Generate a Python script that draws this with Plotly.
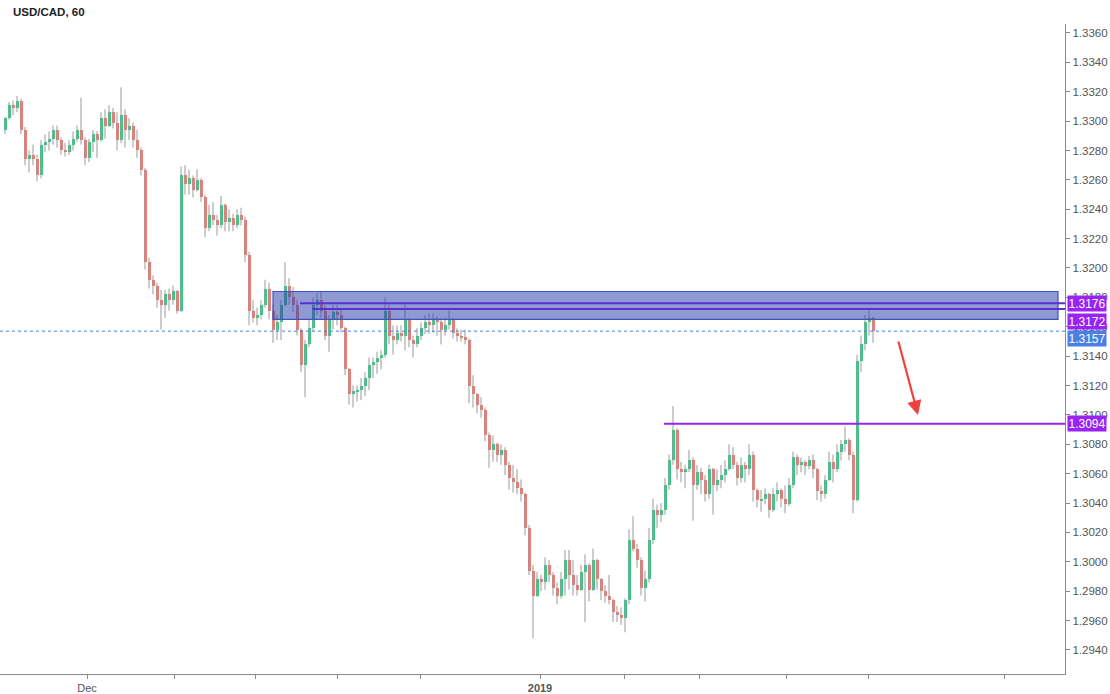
import plotly.graph_objects as go

# ---------------- data (~4-hour candles) ----------------
opens = [
    1.3294, 1.3302, 1.3311, 1.3309, 1.3314, 1.3294, 1.3274, 1.3277, 1.3274, 1.3263,
    1.3284, 1.3286, 1.3288, 1.3294, 1.3287, 1.3280, 1.3279, 1.3284, 1.3288, 1.3294,
    1.3287, 1.3275, 1.3286, 1.3291, 1.3287, 1.3302, 1.3297, 1.3306, 1.3299, 1.3287,
    1.3304, 1.3294, 1.3297, 1.3287, 1.3280, 1.3267, 1.3204, 1.3192, 1.3188, 1.3178,
    1.3175, 1.3182, 1.3178, 1.3184, 1.3171, 1.3263, 1.3257, 1.3261, 1.3253, 1.3260,
    1.3248, 1.3227, 1.3236, 1.3233, 1.3229, 1.3243, 1.3231, 1.3234, 1.3229, 1.3236,
    1.3233, 1.3209, 1.3171, 1.3166, 1.3168, 1.3175, 1.3186, 1.3171, 1.3158, 1.3163,
    1.3175, 1.3188, 1.3180, 1.3175, 1.3158, 1.3134, 1.3148, 1.3159, 1.3175, 1.3178,
    1.3171, 1.3154, 1.3165, 1.3170, 1.3168, 1.3159, 1.3131, 1.3114, 1.3116, 1.3117,
    1.3120, 1.3125, 1.3134, 1.3136, 1.3139, 1.3141, 1.3171, 1.3154, 1.3151, 1.3156,
    1.3154, 1.3165, 1.3151, 1.3148, 1.3154, 1.3159, 1.3163, 1.3161, 1.3165, 1.3163,
    1.3158, 1.3161, 1.3165, 1.3156, 1.3154, 1.3153, 1.3151, 1.3120, 1.3114, 1.3107,
    1.3103, 1.3086, 1.3076, 1.3080, 1.3073, 1.3076, 1.3066, 1.3057, 1.3054, 1.3050,
    1.3046, 1.3023, 1.2994, 1.2977, 1.2988, 1.2986, 1.2998, 1.2991, 1.2982, 1.2977,
    1.2988, 1.3001, 1.2991, 1.2984, 1.2981, 1.2993, 1.2998, 1.2981, 1.3001, 1.2988,
    1.2980, 1.2977, 1.2974, 1.2966, 1.2964, 1.2962, 1.2974, 1.3015, 1.3009, 1.3001,
    1.2982, 1.2988, 1.3015, 1.3035, 1.3032, 1.3035, 1.3052, 1.3069, 1.3090, 1.3063,
    1.3061, 1.3063, 1.3069, 1.3052, 1.3061, 1.3056, 1.3046, 1.3063, 1.3052, 1.3056,
    1.3059, 1.3063, 1.3073, 1.3066, 1.3057, 1.3066, 1.3063, 1.3073, 1.3049, 1.3042,
    1.3043, 1.3046, 1.3035, 1.3046, 1.3049, 1.3043, 1.3039, 1.3052, 1.3071, 1.3066,
    1.3068, 1.3065, 1.3069, 1.3063, 1.3048, 1.3046, 1.3056, 1.3068, 1.3063, 1.3075,
    1.3080, 1.3083, 1.3073, 1.3042, 1.3137, 1.3148, 1.3163, 1.3166,
]
highs = [
    1.3303, 1.3313, 1.3314, 1.3317, 1.3315, 1.3296, 1.3280, 1.3284, 1.3277, 1.3287,
    1.3291, 1.3293, 1.3297, 1.3297, 1.3289, 1.3285, 1.3287, 1.3293, 1.3297, 1.3316,
    1.3289, 1.3288, 1.3294, 1.3293, 1.3306, 1.3308, 1.3311, 1.3309, 1.3306, 1.3323,
    1.3308, 1.3302, 1.3299, 1.3294, 1.3282, 1.3268, 1.3207, 1.3195, 1.3190, 1.3185,
    1.3185, 1.3186, 1.3188, 1.3185, 1.3269, 1.3270, 1.3267, 1.3263, 1.3267, 1.3261,
    1.3250, 1.3243, 1.3245, 1.3236, 1.3249, 1.3244, 1.3240, 1.3237, 1.3240, 1.3241,
    1.3235, 1.3211, 1.3178, 1.3173, 1.3178, 1.3192, 1.3190, 1.3175, 1.3168, 1.3178,
    1.3204, 1.3193, 1.3187, 1.3178, 1.3159, 1.3151, 1.3165, 1.3180, 1.3183, 1.3184,
    1.3175, 1.3168, 1.3175, 1.3175, 1.3173, 1.3160, 1.3132, 1.3120, 1.3120, 1.3125,
    1.3129, 1.3139, 1.3139, 1.3143, 1.3144, 1.3180, 1.3175, 1.3161, 1.3161, 1.3161,
    1.3176, 1.3166, 1.3154, 1.3159, 1.3163, 1.3168, 1.3169, 1.3169, 1.3167, 1.3166,
    1.3166, 1.3171, 1.3166, 1.3159, 1.3158, 1.3158, 1.3152, 1.3127, 1.3115, 1.3112,
    1.3105, 1.3088, 1.3086, 1.3081, 1.3080, 1.3078, 1.3068, 1.3066, 1.3063, 1.3056,
    1.3047, 1.3025, 1.2998, 1.2993, 1.2991, 1.3003, 1.3001, 1.2993, 1.2986, 1.2993,
    1.3008, 1.3008, 1.3001, 1.2991, 1.2998, 1.3005, 1.2999, 1.3009, 1.3002, 1.2989,
    1.2984, 1.2991, 1.2975, 1.2970, 1.2969, 1.2975, 1.3022, 1.3031, 1.3012, 1.3003,
    1.2994, 1.3023, 1.3043, 1.3039, 1.3040, 1.3057, 1.3073, 1.3106, 1.3091, 1.3068,
    1.3066, 1.3076, 1.3071, 1.3066, 1.3064, 1.3059, 1.3066, 1.3064, 1.3063, 1.3066,
    1.3069, 1.3080, 1.3078, 1.3068, 1.3071, 1.3068, 1.3080, 1.3075, 1.3050, 1.3049,
    1.3050, 1.3047, 1.3050, 1.3054, 1.3050, 1.3052, 1.3057, 1.3075, 1.3073, 1.3071,
    1.3069, 1.3072, 1.3073, 1.3064, 1.3052, 1.3059, 1.3075, 1.3073, 1.3080, 1.3083,
    1.3092, 1.3084, 1.3075, 1.3141, 1.3154, 1.3168, 1.3171, 1.3167,
]
lows = [
    1.3291, 1.3301, 1.3304, 1.3306, 1.3291, 1.3270, 1.3265, 1.3270, 1.3259, 1.3261,
    1.3279, 1.3280, 1.3284, 1.3282, 1.3277, 1.3276, 1.3277, 1.3280, 1.3286, 1.3284,
    1.3270, 1.3272, 1.3279, 1.3275, 1.3286, 1.3288, 1.3296, 1.3295, 1.3280, 1.3285,
    1.3282, 1.3287, 1.3282, 1.3275, 1.3263, 1.3199, 1.3186, 1.3182, 1.3173, 1.3158,
    1.3166, 1.3171, 1.3175, 1.3169, 1.3170, 1.3250, 1.3250, 1.3248, 1.3252, 1.3245,
    1.3221, 1.3225, 1.3229, 1.3222, 1.3227, 1.3225, 1.3225, 1.3225, 1.3227, 1.3229,
    1.3204, 1.3161, 1.3163, 1.3161, 1.3165, 1.3173, 1.3165, 1.3149, 1.3151, 1.3151,
    1.3174, 1.3175, 1.3170, 1.3154, 1.3129, 1.3112, 1.3146, 1.3157, 1.3168, 1.3166,
    1.3151, 1.3143, 1.3158, 1.3161, 1.3156, 1.3127, 1.3107, 1.3105, 1.3109, 1.3110,
    1.3113, 1.3117, 1.3125, 1.3128, 1.3131, 1.3139, 1.3148, 1.3141, 1.3148, 1.3150,
    1.3144, 1.3146, 1.3139, 1.3146, 1.3151, 1.3155, 1.3155, 1.3156, 1.3154, 1.3148,
    1.3154, 1.3158, 1.3152, 1.3150, 1.3150, 1.3148, 1.3108, 1.3105, 1.3101, 1.3098,
    1.3082, 1.3064, 1.3068, 1.3068, 1.3066, 1.3059, 1.3049, 1.3047, 1.3046, 1.3041,
    1.3018, 1.2991, 1.2948, 1.2976, 1.2980, 1.2981, 1.2986, 1.2977, 1.2971, 1.2975,
    1.2977, 1.2981, 1.2977, 1.2977, 1.2980, 1.2959, 1.2973, 1.2980, 1.2981, 1.2974,
    1.2972, 1.2971, 1.2959, 1.2959, 1.2957, 1.2952, 1.2971, 1.3007, 1.2996, 1.2977,
    1.2973, 1.2986, 1.3012, 1.3023, 1.3027, 1.3032, 1.3049, 1.3066, 1.3056, 1.3054,
    1.3050, 1.3061, 1.3028, 1.3049, 1.3046, 1.3041, 1.3043, 1.3032, 1.3048, 1.3050,
    1.3054, 1.3062, 1.3063, 1.3052, 1.3054, 1.3054, 1.3059, 1.3041, 1.3037, 1.3034,
    1.3039, 1.3030, 1.3034, 1.3041, 1.3037, 1.3033, 1.3038, 1.3050, 1.3059, 1.3061,
    1.3059, 1.3063, 1.3057, 1.3042, 1.3041, 1.3043, 1.3055, 1.3054, 1.3061, 1.3069,
    1.3075, 1.3069, 1.3033, 1.3041, 1.3129, 1.3144, 1.3154, 1.3149,
]
closes = [
    1.3302, 1.3311, 1.3309, 1.3314, 1.3294, 1.3274, 1.3277, 1.3274, 1.3263, 1.3284,
    1.3286, 1.3288, 1.3294, 1.3287, 1.3280, 1.3279, 1.3284, 1.3288, 1.3294, 1.3287,
    1.3275, 1.3286, 1.3291, 1.3287, 1.3302, 1.3297, 1.3306, 1.3299, 1.3287, 1.3304,
    1.3294, 1.3297, 1.3287, 1.3280, 1.3267, 1.3204, 1.3192, 1.3188, 1.3178, 1.3175,
    1.3182, 1.3178, 1.3184, 1.3171, 1.3263, 1.3257, 1.3261, 1.3253, 1.3260, 1.3248,
    1.3227, 1.3236, 1.3233, 1.3229, 1.3243, 1.3231, 1.3234, 1.3229, 1.3236, 1.3233,
    1.3209, 1.3171, 1.3166, 1.3168, 1.3175, 1.3186, 1.3171, 1.3158, 1.3163, 1.3175,
    1.3188, 1.3180, 1.3175, 1.3158, 1.3134, 1.3148, 1.3159, 1.3175, 1.3178, 1.3171,
    1.3154, 1.3165, 1.3170, 1.3168, 1.3159, 1.3131, 1.3114, 1.3116, 1.3117, 1.3120,
    1.3125, 1.3134, 1.3136, 1.3139, 1.3141, 1.3171, 1.3154, 1.3151, 1.3156, 1.3154,
    1.3165, 1.3151, 1.3148, 1.3154, 1.3159, 1.3163, 1.3161, 1.3165, 1.3163, 1.3158,
    1.3161, 1.3165, 1.3156, 1.3154, 1.3153, 1.3151, 1.3120, 1.3114, 1.3107, 1.3103,
    1.3086, 1.3076, 1.3080, 1.3073, 1.3076, 1.3066, 1.3057, 1.3054, 1.3050, 1.3046,
    1.3023, 1.2994, 1.2977, 1.2988, 1.2986, 1.2998, 1.2991, 1.2982, 1.2977, 1.2988,
    1.3001, 1.2991, 1.2984, 1.2981, 1.2993, 1.2998, 1.2981, 1.3001, 1.2988, 1.2980,
    1.2977, 1.2974, 1.2966, 1.2964, 1.2962, 1.2974, 1.3015, 1.3009, 1.3001, 1.2982,
    1.2988, 1.3015, 1.3035, 1.3032, 1.3035, 1.3052, 1.3069, 1.3090, 1.3063, 1.3061,
    1.3063, 1.3069, 1.3052, 1.3061, 1.3056, 1.3046, 1.3063, 1.3052, 1.3056, 1.3059,
    1.3063, 1.3073, 1.3066, 1.3057, 1.3066, 1.3063, 1.3073, 1.3049, 1.3042, 1.3043,
    1.3046, 1.3035, 1.3046, 1.3049, 1.3043, 1.3039, 1.3052, 1.3071, 1.3066, 1.3068,
    1.3065, 1.3069, 1.3063, 1.3048, 1.3046, 1.3056, 1.3068, 1.3063, 1.3075, 1.3080,
    1.3083, 1.3073, 1.3042, 1.3137, 1.3148, 1.3163, 1.3166, 1.3157,
]

# x-axis (bar index) tick marks and labels
x_tick_pos = [20.5, 42.25, 62.5, 83, 103.75, 133.75, 154.75, 173.5, 195.25, 215.75, 249.75]
x_tick_text = ["Dec", "", "", "", "", "<b>2019</b>", "", "", "", "", ""]

# price-axis ticks
y_tick_vals = [1.2940, 1.2960, 1.2980, 1.3000, 1.3020, 1.3040, 1.3060, 1.3080, 1.3100,
               1.3120, 1.3140, 1.3160, 1.3180, 1.3200, 1.3220, 1.3240, 1.3260, 1.3280,
               1.3300, 1.3320, 1.3340, 1.3360]
y_tick_text = ["%.4f" % v for v in y_tick_vals]

# drawings
zone_top = 1.3184
zone_bottom = 1.3165
zone_start = 67
zone_end = 263.25
level_hi = 1.3176
level_hi_start = 73.75
level_lo = 1.3172
level_lo_start = 76.75
support_level = 1.3094
support_start = 164.75
last_price = 1.3157
arrow_from = (223.25, 1.3151)
arrow_to = (228.25, 1.3100)

X_MIN, X_MAX = -1.25, 265
Y_MIN, Y_MAX = 1.29236, 1.33661

UP = "#34c884"
DOWN = "#f07b74"
WICK = "#9a9a9a"
PURPLE = "#9b22f5"
LINE_PURPLE = "#5b2fd0"
BLUE = "#4a7fe3"

idx = list(range(len(closes)))

# wicks
wx, wy = [], []
for i, h, l in zip(idx, highs, lows):
    wx += [i, i, None]
    wy += [l, h, None]

# bodies
bases = [min(o, c) for o, c in zip(opens, closes)]
heights = [max(abs(c - o), 0.00003) for o, c in zip(opens, closes)]
colors = [UP if c >= o else DOWN for o, c in zip(opens, closes)]

fig = go.Figure()
fig.add_trace(go.Scatter(x=wx, y=wy, mode="lines", line=dict(color=WICK, width=1),
                         hoverinfo="skip", showlegend=False))
fig.add_trace(go.Bar(x=idx, y=heights, base=bases, width=0.75,
                     marker=dict(color=colors, line=dict(width=0)),
                     showlegend=False, hoverinfo="skip"))

shapes = [
    dict(type="rect", xref="x", yref="y", x0=zone_start, x1=zone_end,
         y0=zone_bottom, y1=zone_top, fillcolor="rgba(40,60,170,0.52)",
         line=dict(color="#3f55b8", width=1.2), layer="above"),
    dict(type="line", xref="x", yref="y", x0=level_hi_start, x1=X_MAX,
         y0=level_hi, y1=level_hi, line=dict(color=LINE_PURPLE, width=2)),
    dict(type="line", xref="x", yref="y", x0=level_lo_start, x1=X_MAX,
         y0=level_lo, y1=level_lo, line=dict(color=LINE_PURPLE, width=2)),
    dict(type="line", xref="x", yref="y", x0=support_start, x1=X_MAX,
         y0=support_level, y1=support_level, line=dict(color=PURPLE, width=2)),
    dict(type="line", xref="x", yref="y", x0=X_MIN, x1=X_MAX,
         y0=last_price, y1=last_price, line=dict(color=BLUE, width=1, dash="dot")),
]

label_font = dict(family="Liberation Sans, Arial", size=12, color="white")
def price_label(v, color, yshift):
    return dict(xref="paper", yref="y", x=1, y=v, xanchor="left", yanchor="middle",
                xshift=2, yshift=yshift, text="%.4f" % v, showarrow=False,
                bgcolor=color, font=label_font, width=38, height=15, borderpad=0,
                align="center")

annotations = [
    price_label(level_hi, PURPLE, 0),
    price_label(level_lo, PURPLE, -12),
    price_label(last_price, BLUE, -7),
    price_label(support_level, PURPLE, 0),
    dict(xref="x", yref="y", axref="x", ayref="y",
         x=arrow_to[0], y=arrow_to[1], ax=arrow_from[0], ay=arrow_from[1],
         showarrow=True, arrowhead=2, arrowsize=1.3, arrowwidth=2.2,
         arrowcolor="#f2403c", text=""),
    dict(xref="paper", yref="paper", x=0, y=1, xanchor="left", yanchor="middle",
         xshift=11, yshift=12, text="<b>USD/CAD, 60</b>", showarrow=False,
         font=dict(family="Liberation Sans, Arial", size=11.5, color="#222")),
]

fig.update_layout(
    width=1110, height=694,
    margin=dict(l=0, r=45, t=24, b=20),
    paper_bgcolor="white", plot_bgcolor="white",
    showlegend=False, bargap=0,
    shapes=shapes, annotations=annotations,
    xaxis=dict(range=[X_MIN, X_MAX], showgrid=False, zeroline=False,
               showline=True, linecolor="#8a8a8a", linewidth=1.2,
               ticks="outside", ticklen=4, tickcolor="#8a8a8a",
               tickvals=x_tick_pos, ticktext=x_tick_text,
               tickfont=dict(family="Liberation Sans, Arial", size=11, color="#555")),
    yaxis=dict(range=[Y_MIN, Y_MAX], side="right", showgrid=False, zeroline=False,
               showline=True, linecolor="#8a8a8a", linewidth=1.2,
               ticks="outside", ticklen=4, tickcolor="#8a8a8a",
               tickvals=y_tick_vals, ticktext=y_tick_text,
               tickfont=dict(family="Liberation Sans, Arial", size=11.5, color="#555")),
)

fig.write_html("out.html", config={"displayModeBar": False},
               post_script="document.body.style.margin='0';document.body.style.overflow='hidden';")
